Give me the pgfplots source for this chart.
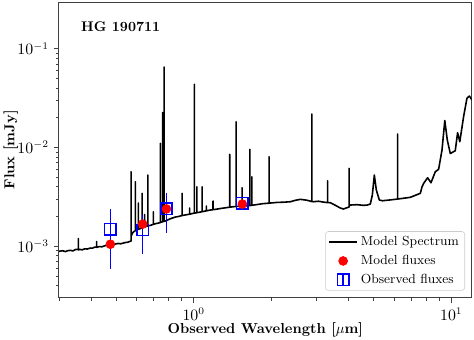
\documentclass[border=0pt]{standalone}
\usepackage{pgfplots}
\pgfplotsset{compat=1.18}
\usepackage{pgfplotstable}

% model spectrum (wavelength in micron, flux in mJy)
\pgfplotstableread{
lam flux
0.300 8.90e-4
0.310 9.02e-4
0.318 8.85e-4
0.325 9.05e-4
0.333 9.10e-4
0.340 8.98e-4
0.3475 9.28e-4
0.3568 9.34e-4
0.3568 1.199e-3
0.3568 9.20e-4
0.362 9.30e-4
0.370 9.22e-4
0.378 9.45e-4
0.386 9.38e-4
0.3973 9.61e-4
0.405 9.58e-4
0.412 9.80e-4
0.4203 9.85e-4
0.4203 1.118e-3
0.4203 9.75e-4
0.430 9.95e-4
0.440 9.88e-4
0.4545 1.019e-3
0.463 1.030e-3
0.470 1.020e-3
0.480 1.045e-3
0.4968 1.055e-3
0.510 1.070e-3
0.520 1.060e-3
0.5433 1.093e-3
0.555 1.100e-3
0.563 1.118e-3
0.5714 1.130e-3
0.5714 5.690e-3
0.5714 1.250e-3
0.5782 1.363e-3
0.5860 1.410e-3
0.5939 1.440e-3
0.5939 4.505e-3
0.5939 1.440e-3
0.5995 1.462e-3
0.6100 1.490e-3
0.6100 2.743e-3
0.6100 1.490e-3
0.620 1.510e-3
0.6308 1.540e-3
0.6308 3.439e-3
0.6308 1.540e-3
0.640 1.560e-3
0.645 1.570e-3
0.645 2.100e-3
0.645 1.570e-3
0.6497 1.586e-3
0.6644 1.610e-3
0.6644 5.268e-3
0.6644 1.610e-3
0.680 1.630e-3
0.6976 1.670e-3
0.6976 2.240e-3
0.6976 1.670e-3
0.715 1.700e-3
0.730 1.720e-3
0.7428 1.741e-3
0.7428 1.103e-2
0.7428 1.741e-3
0.7582 1.775e-3
0.7582 2.261e-2
0.7582 1.775e-3
0.7675 1.790e-3
0.7675 6.530e-2
0.7675 1.790e-3
0.780 1.810e-3
0.800 1.870e-3
0.820 1.920e-3
0.8492 1.979e-3
0.870 2.000e-3
0.9016 2.050e-3
0.9016 3.439e-3
0.9016 2.050e-3
0.930 2.080e-3
0.9649 2.115e-3
0.9649 2.441e-3
0.9649 2.115e-3
0.9709 2.123e-3
1.0063 2.170e-3
1.0063 4.362e-2
1.0063 2.170e-3
1.029 2.190e-3
1.029 4.010e-3
1.029 2.190e-3
1.050 2.210e-3
1.078 2.240e-3
1.078 4.010e-3
1.078 2.240e-3
1.110 2.277e-3
1.120 2.285e-3
1.120 2.557e-3
1.120 2.285e-3
1.150 2.320e-3
1.189 2.350e-3
1.189 2.874e-3
1.189 2.350e-3
1.230 2.380e-3
1.269 2.413e-3
1.320 2.450e-3
1.380 2.490e-3
1.380 8.534e-3
1.380 2.490e-3
1.426 2.517e-3
1.462 2.530e-3
1.462 1.824e-2
1.462 2.530e-3
1.500 2.540e-3
1.541 2.560e-3
1.541 3.918e-3
1.541 2.560e-3
1.600 2.570e-3
1.652 2.585e-3
1.652 9.590e-3
1.652 2.585e-3
1.660 2.588e-3
1.682 2.600e-3
1.682 5.064e-3
1.682 2.600e-3
1.750 2.640e-3
1.850 2.700e-3
1.962 2.735e-3
1.962 8.070e-3
1.962 2.735e-3
1.985 2.743e-3
2.100 2.780e-3
2.250 2.800e-3
2.373 2.827e-3
2.480 2.920e-3
2.594 2.990e-3
2.750 2.930e-3
2.875 2.840e-3
2.875 2.183e-2
2.875 2.840e-3
2.914 2.827e-3
3.050 2.860e-3
3.200 2.800e-3
3.311 2.770e-3
3.311 4.613e-3
3.311 2.770e-3
3.393 2.762e-3
3.550 2.600e-3
3.700 2.450e-3
3.810 2.385e-3
3.920 2.450e-3
4.012 2.500e-3
4.012 6.160e-3
4.012 2.550e-3
4.056 2.618e-3
4.300 2.640e-3
4.550 2.600e-3
4.722 2.618e-3
4.850 2.680e-3
4.937 3.304e-3
5.026 5.268e-3
5.117 3.714e-3
5.256 2.941e-3
5.399 2.893e-3
5.800 2.950e-3
6.194 3.010e-3
6.194 1.370e-2
6.194 3.010e-3
6.934 3.133e-3
7.582 3.439e-3
7.700 4.000e-3
7.814 4.341e-3
8.091 4.945e-3
8.341 4.401e-3
8.669 5.689e-3
8.928 6.017e-3
9.203 9.435e-3
9.436 1.876e-2
9.649 1.191e-2
9.911 8.695e-3
10.36 9.281e-3
10.58 1.412e-2
10.79 1.145e-2
11.16 2.049e-2
11.50 3.148e-2
11.75 3.320e-2
12.03 3.026e-2
}\spectrum

\begin{document}
\begin{tikzpicture}
\begin{axis}[
    name=ax,
    scale only axis,
    width=285.6pt, height=204.6pt,
    xmode=log, ymode=log,
    xmin=0.3, xmax=12.0,
    ymin=3.02e-4, ymax=0.297,
    tick pos=left, tick align=outside,
    major tick length=3.5pt, minor tick length=2pt,
    axis line style={black!75, line width=0.7pt},
    every tick/.style={black!75, line width=0.6pt},
    tick label style={font=\fontsize{10.5}{12}\selectfont},
    xlabel={\bfseries Observed Wavelength [$\mu$m]},
    ylabel={\bfseries Flux [mJy]},
    label style={font=\fontsize{10}{12}\selectfont},
    xlabel style={at={(axis description cs:0.5,-0.120)}, anchor=base},
    ylabel style={at={(axis description cs:-0.108,0.5)}, anchor=base},
    legend cell align=left,
    legend style={at={(rel axis cs:0.9838,0.0237)}, anchor=south east,
        draw=black!20, rounded corners=2pt, fill=white,
        font=\fontsize{9.1}{11}\selectfont,
        inner xsep=2pt, inner ysep=1.5pt, row sep=1pt},
]
\addlegendimage{legend image code/.code={\draw[black, line width=1.2pt, sharp corners] (0cm,0cm) -- (0.68cm,0cm);}}
\addlegendentry{Model Spectrum}
\addlegendimage{legend image code/.code={\fill[red] (0.34cm,0cm) circle (3.1pt);}}
\addlegendentry{Model fluxes}
\addlegendimage{legend image code/.code={
    \draw[blue, line width=0.9pt, sharp corners] (0.34cm,-3.9pt) -- (0.34cm,3.9pt);
    \draw[blue, line width=1pt, sharp corners] (0.34cm-3.9pt,-3.9pt) rectangle (0.34cm+3.9pt,3.9pt);}}
\addlegendentry{Observed fluxes}

\addplot[black, line width=1.1pt, line join=round, forget plot] table[x=lam, y=flux] {\spectrum};

\addplot[only marks, mark=square, mark size=3.9pt, blue, line width=1pt, forget plot,
    error bars/.cd, y dir=both, y explicit, error mark=none,
    error bar style={blue, line width=0.9pt}]
coordinates {
    (0.475,1.49e-3) +- (0,0.90e-3)
    (0.634,1.46e-3) +- (0,0.62e-3)
    (0.784,2.40e-3) +- (0,1.03e-3)
    (1.545,2.72e-3) +- (0,0.20e-3)
};

\addplot[only marks, mark=*, mark size=3.1pt, red, mark options={draw=red, fill=red}, forget plot]
coordinates {
    (0.475,1.05e-3)
    (0.634,1.68e-3)
    (0.784,2.39e-3)
    (1.545,2.68e-3)
};

\node[anchor=north west, inner sep=0pt, font=\fontsize{9.7}{12}\selectfont\bfseries]
    at (rel axis cs:0.0533,0.936) {HG 190711};
\end{axis}
\pgfresetboundingbox
\path[use as bounding box] ([shift={(-40.8pt,-28.6pt)}]ax.south west) rectangle ([shift={(1.6pt,1.4pt)}]ax.north east);
\end{tikzpicture}
\end{document}
